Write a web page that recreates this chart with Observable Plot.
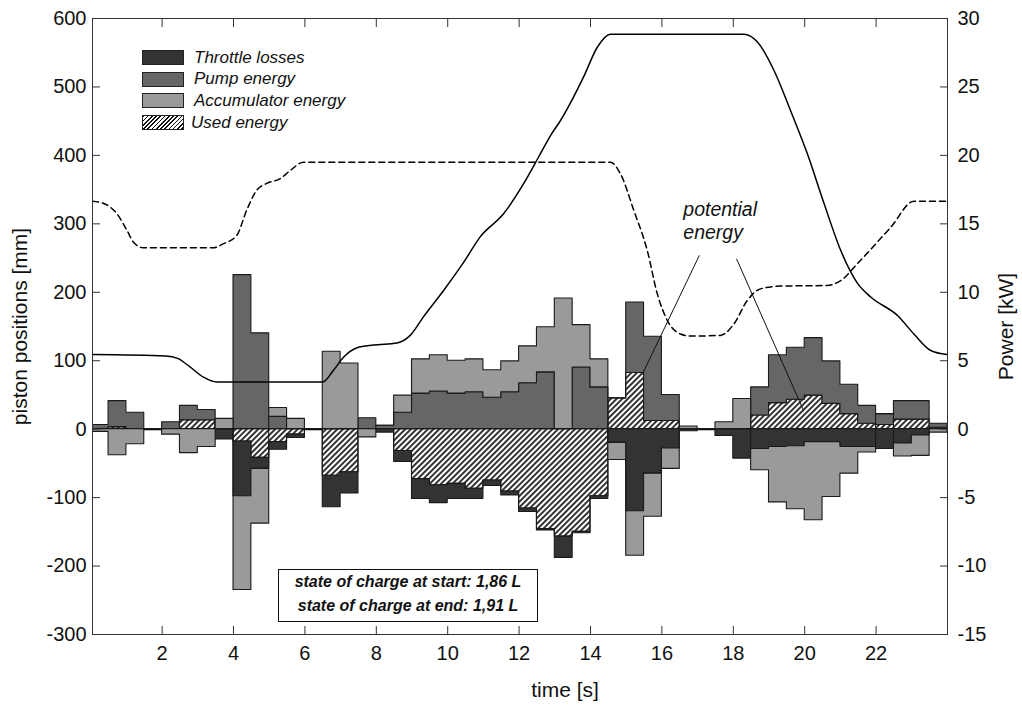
<!DOCTYPE html>
<html><head><meta charset="utf-8">
<script src="https://cdn.jsdelivr.net/npm/d3@7"></script>
<script src="https://cdn.jsdelivr.net/npm/@observablehq/plot@0.6"></script>
<style>
body{margin:0;background:#fff}
#wrap{position:relative;width:1022px;height:708px;font-family:"Liberation Sans",Arial,sans-serif;color:#111}
.lg-row{position:absolute;display:flex;align-items:center;height:15px;font-style:italic;font-size:17px;white-space:nowrap}
.lg-sw{width:40px;height:13px;border:1px solid #222;margin-right:10px;flex:none}
#soc{position:absolute;left:278px;top:569px;width:260px;height:53px;box-sizing:border-box;border:1.5px solid #111;background:#fff;font-weight:bold;font-style:italic;font-size:16px;line-height:24px;text-align:center}
</style>
</head><body><div id="wrap"></div>
<script>
// ---- data ----
const binStart = [0,0.5,1,1.5,2,2.5,3,3.5,4,4.5,5,5.5,6,6.5,7,7.5,8,8.5,9,9.5,10,10.5,11,11.5,12,12.5,13,13.5,14,14.5,15,15.5,16,16.5,17,17.5,18,18.5,19,19.5,20,20.5,21,21.5,22,22.5,23,23.5];
const binEnd = 24;
// power per 0.5 s interval [kW]
const usedKW = [0,0.15,0,0,0,0.65,0.65,0,-0.9,-2.1,-0.95,-0.4,0,-3.4,-3.15,0,0,-1.6,-3.65,-4.1,-4.0,-4.35,-3.75,-4.55,-5.8,-7.3,-7.85,-7.5,-4.9,2.25,4.1,0.6,0.6,0,0,0,0,1.0,1.9,2.15,2.45,1.85,1.1,0.4,0.3,0.7,0.7,0.1];
const throttleKW = [0,0,0,0,0,0,0,-0.75,-4.0,-0.8,-0.55,-0.25,0,-2.3,-1.55,0,-0.25,-0.8,-1.45,-1.3,-1.1,-0.75,-0.4,-0.3,-0.25,-0.1,-1.55,-0.1,-0.2,-1.0,-6.0,-3.25,-1.4,-0.15,0,-0.5,-2.15,-1.45,-1.3,-1.25,-0.95,-0.95,-1.3,-1.3,-1.45,-1.05,-0.45,0];
const pumpKW = [0.3,1.9,1.2,0,0.5,1.05,0.75,0,11.25,7.0,0.9,0,0,0,0,0.8,0.25,1.2,2.6,2.75,2.6,2.7,2.3,2.7,3.35,4.15,0,4.5,3.05,0,5.15,6.15,1.9,0,0,0,0,2.05,3.5,3.8,4.2,3.1,2.15,1.3,0.8,1.35,1.35,0.3];
const accumKW = [-0.2,-1.9,-1.1,0,-0.4,-1.75,-1.3,0.75,-6.85,-4.0,0.65,0.75,0,5.65,4.8,-0.6,0,1.25,2.5,2.65,2.4,2.4,2.0,2.25,2.7,3.3,9.55,3.1,2.05,-1.25,-3.25,-3.15,-1.5,0.2,0,0.5,2.2,-1.55,-4.05,-4.6,-5.7,-4.0,-1.95,-0.4,0,-0.95,-1.5,-0.25];

// piston positions [mm]
const piston1T  = [0.05,2.1,2.45,2.78,3.16,3.53,6.5,6.8,7.08,7.46,7.92,8.58,8.95,9.32,9.89,10.45,10.91,11.57,12.13,12.55,12.88,13.16,13.81,14.19,14.56,18.3,18.67,19.14,19.6,20.07,20.54,21.01,21.48,21.85,22.6,23.06,23.53,24.0];
const piston1mm = [109,107,103,91,76,69,69,86,105,119,123,126,137,164,203,244,281,315,359,398,429,451,515,558,577,577,566,524,466,403,330,261,213,193,166,139,115,109];
const piston2T  = [0.05,0.35,0.73,1.01,1.2,1.47,3.44,3.72,4.09,4.37,4.65,4.93,5.31,5.59,5.96,14.56,14.84,15.21,15.59,15.87,16.15,16.52,16.8,17.64,18.02,18.39,18.76,19.32,20.63,21.01,21.48,22.41,23.06,24.0];
const piston2mm = [333,330,315,291,273,265,265,271,283,320,349,359,366,378,390,390,373,320,261,198,159,139,136,137,154,188,205,209,210,217,242,295,333,333];

const seriesNames = ["Used energy","Throttle losses","Pump energy","Accumulator energy"];
const seriesFills = ["url(#hatchUsed)","#333333","#666666","#9a9a9a"];
const legendOrder = ["Throttle losses","Pump energy","Accumulator energy","Used energy"];
const xTicks = [2,4,6,8,10,12,14,16,18,20,22];
const yTicks = [-300,-200,-100,0,100,200,300,400,500,600];
const kWtoMm = 20; // right axis 30 kW <-> left axis 600 mm
const xLabel = "time [s]";
const yLabelLeft = "piston positions [mm]";
const yLabelRight = "Power [kW]";
const socLines = ["state of charge at start: 1,86 L","state of charge at end: 1,91 L"];
const annotText = ["potential\nenergy"];
const annotPos = [{t:16.6, mm:306}];
const pointers = [{t1:17.05,mm1:254,t2:15.45,mm2:80},{t1:18.09,mm1:249,t2:19.97,mm2:27}];

// ---- build rows ----
const seriesValues = {"Used energy":usedKW,"Throttle losses":throttleKW,"Pump energy":pumpKW,"Accumulator energy":accumKW};
const rows = [];
for (const name of seriesNames) {
  const v = seriesValues[name];
  binStart.forEach((t,i)=>rows.push({t, series:name, kW:v[i]}));
  rows.push({t:binEnd, series:name, kW:v[v.length-1]});
}
const p1 = piston1T.map((t,i)=>({t, mm:piston1mm[i]}));
const p2 = piston2T.map((t,i)=>({t, mm:piston2mm[i]}));

const font = '"Liberation Sans", Arial, sans-serif';
const chart = Plot.plot({
  width:1022, height:708,
  marginLeft:92, marginRight:75, marginTop:18, marginBottom:74,
  style:{fontFamily:font, fontSize:"20px", background:"white", color:"#111"},
  x:{domain:[0.05,24]},
  y:{domain:[-300,600]},
  color:{domain:seriesNames, range:seriesFills},
  marks:[
    Plot.ruleY([0],{stroke:"#000", strokeWidth:2}),
    Plot.areaY(rows, Plot.stackY({x:"t", y:d=>d.kW*kWtoMm, z:"series", fill:"series", order:seriesNames, curve:"step-after", stroke:"#1a1a1a", strokeWidth:1.1, clip:true})),
    Plot.line(p2,{x:"t", y:"mm", stroke:"#000", strokeWidth:1.5, strokeDasharray:"6,4", curve:"monotone-x", clip:true}),
    Plot.line(p1,{x:"t", y:"mm", stroke:"#000", strokeWidth:1.5, curve:"monotone-x", clip:true}),
    Plot.link(pointers,{x1:"t1", y1:"mm1", x2:"t2", y2:"mm2", stroke:"#111", strokeWidth:1}),
    Plot.text(annotText,{x:()=>annotPos[0].t, y:()=>annotPos[0].mm, text:d=>d, textAnchor:"start", lineAnchor:"middle", lineHeight:1.18, fontStyle:"italic", fontSize:19.5, fill:"#111"}),
    Plot.frame({stroke:"#333"}),
    Plot.axisX({anchor:"bottom", ticks:xTicks, tickSize:-8, tickPadding:19, tickFormat:d=>String(d), label:null, stroke:"#333"}),
    Plot.axisX({anchor:"top", ticks:xTicks, tickSize:-8, tickFormat:()=>"", label:null, stroke:"#333"}),
    Plot.axisY({anchor:"left", ticks:yTicks, tickSize:-8, tickPadding:14, tickFormat:d=>String(d), label:null, stroke:"#333"}),
    Plot.axisY({anchor:"right", ticks:yTicks, tickSize:-8, tickPadding:18, tickFormat:d=>String(d/kWtoMm), label:null, stroke:"#333"}),
    Plot.text([xLabel],{frameAnchor:"bottom", dx:45, dy:48, textAnchor:"middle", lineAnchor:"top", fontSize:21, fill:"#111"}),
    Plot.text([yLabelLeft],{frameAnchor:"left", rotate:-90, dx:-72, textAnchor:"middle", lineAnchor:"middle", fontSize:21, fill:"#111"}),
    Plot.text([yLabelRight],{frameAnchor:"right", rotate:-90, dx:59, textAnchor:"middle", lineAnchor:"middle", fontSize:21, fill:"#111"})
  ]
});

// hatch pattern
const svg = chart.tagName.toLowerCase()==="svg" ? chart : chart.querySelector("svg");
const ns = "http://www.w3.org/2000/svg";
const defs = document.createElementNS(ns,"defs");
defs.innerHTML = '<pattern id="hatchUsed" patternUnits="userSpaceOnUse" width="4" height="4" patternTransform="rotate(45)"><rect width="4" height="4" fill="white"/><line x1="2" y1="0" x2="2" y2="4" stroke="black" stroke-width="1.6"/></pattern>';
svg.insertBefore(defs, svg.firstChild);

const wrap = document.getElementById("wrap");
wrap.appendChild(chart);

// legend
const fillOf = Object.fromEntries(seriesNames.map((n,i)=>[n,seriesFills[i]]));
legendOrder.forEach((name,i)=>{
  const row = document.createElement("div");
  row.className = "lg-row";
  row.style.left = "142px";
  row.style.top = (50 + i*21.7) + "px";
  const sw = document.createElement("div");
  sw.className = "lg-sw";
  const f = fillOf[name];
  if (f.startsWith("url")) {
    sw.style.background = "repeating-linear-gradient(135deg, #111 0px, #111 1.1px, #fff 1.1px, #fff 3px)";
    sw.style.marginRight = "7px";
  } else sw.style.background = f;
  row.appendChild(sw);
  const tx = document.createElement("span");
  tx.textContent = name;
  row.appendChild(tx);
  wrap.appendChild(row);
});

// state of charge box
const soc = document.createElement("div");
soc.id = "soc";
soc.innerHTML = socLines.map(s=>`<div>${s}</div>`).join("");
wrap.appendChild(soc);
</script>
</body></html>
